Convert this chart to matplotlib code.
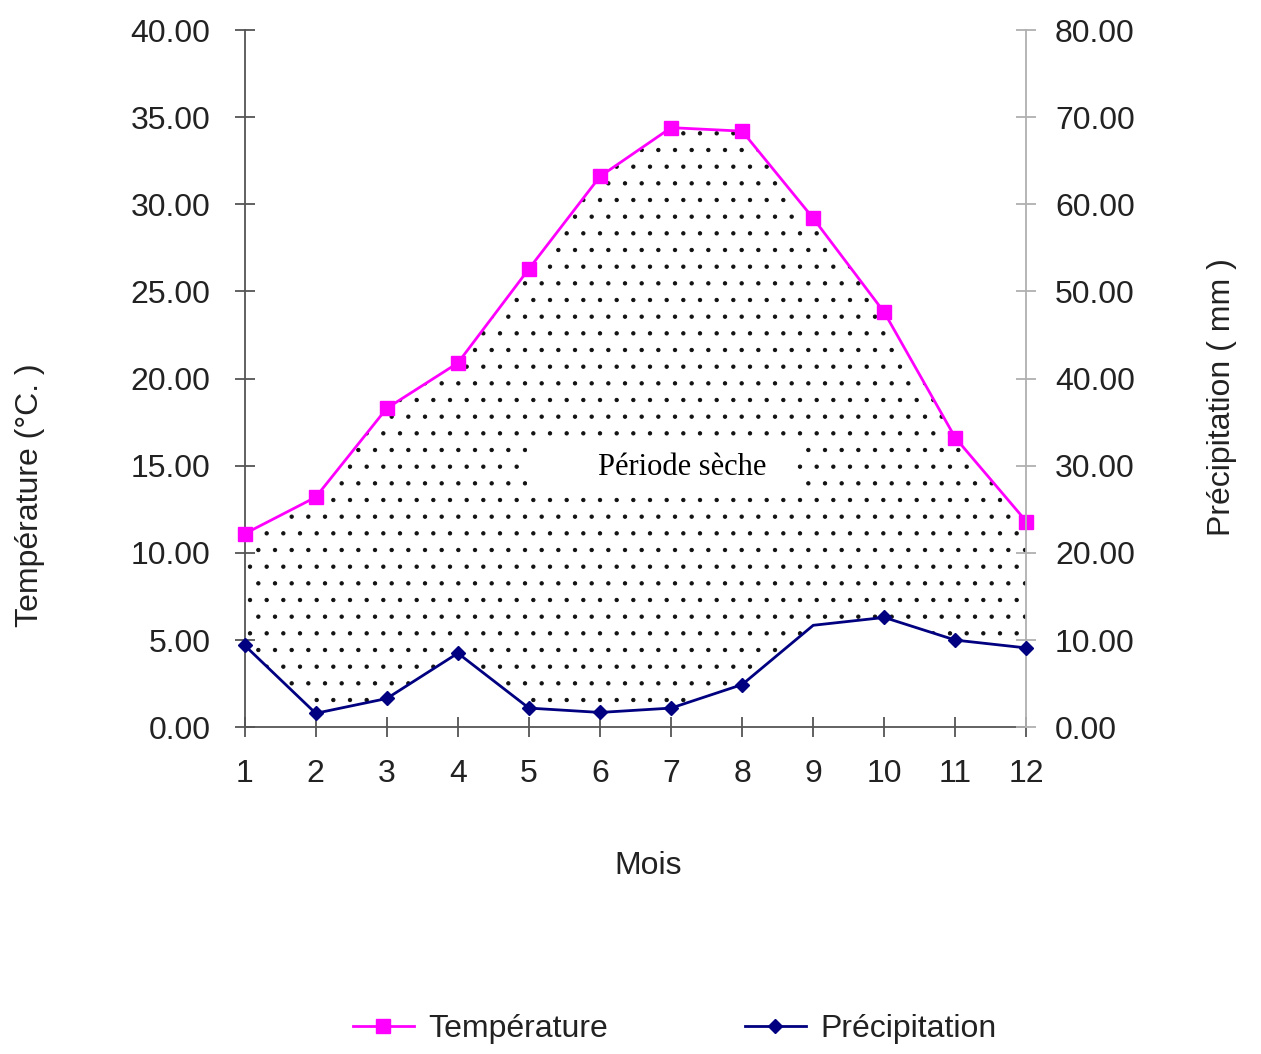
"""Ombrothermic diagram: monthly temperature vs precipitation with the dry period shaded."""

import numpy as np
import matplotlib.pyplot as plt
from matplotlib.lines import Line2D
from matplotlib.patches import Rectangle

plt.rcParams['font.family'] = ['Liberation Sans', 'DejaVu Sans']
plt.rcParams['hatch.linewidth'] = 0.7

months = np.arange(1, 13)
temperature = [11.1, 13.2, 18.3, 20.9, 26.3, 31.6, 34.4, 34.2, 29.2, 23.8, 16.6, 11.8]
precipitation = [9.4, 1.6, 3.3, 8.5, 2.2, 1.7, 2.2, 4.9, 11.7, 12.6, 10.0, 9.1]

temp_ticks = np.arange(0, 41, 5)
prec_ticks = np.arange(0, 81, 10)

TEMP_COLOR = '#ff00ff'
PREC_COLOR = '#000080'
FS = 23

fig = plt.figure(figsize=(12.61, 10.54), dpi=100)
ax = fig.add_axes([0.194, 0.310, 0.620, 0.6615])
ax2 = ax.twinx()

ax.set_xlim(1, 12)
ax.set_ylim(0, 40)
ax2.set_ylim(0, 80)

# dry period: area between T and P/2 (P = 2T convention)
prec_scaled = np.array(precipitation) * (40 / 80)
ax.fill_between(months, temperature, prec_scaled, facecolor='none',
                edgecolor='#111111', hatch='.', linewidth=0, zorder=1)
ax.add_patch(Rectangle((0.361, 0.336), 0.345, 0.073, transform=ax.transAxes,
                       facecolor='white', edgecolor='none', zorder=2))
ax.text(7.16, 14.9, 'Période sèche', family='Liberation Serif', fontsize=22,
        ha='center', va='center', zorder=3)

ax.plot(months, temperature, color=TEMP_COLOR, lw=2.0, marker='s', ms=10,
        zorder=4, clip_on=False)
ax2.plot(months, precipitation, color=PREC_COLOR, lw=2.0, marker='D', ms=7,
         markevery=[0, 1, 2, 3, 4, 5, 6, 7, 9, 10, 11], zorder=4, clip_on=False)

ax.set_xticks(months)
ax.set_yticks(temp_ticks)
ax.set_yticklabels([f'{v:.2f}' for v in temp_ticks])
ax2.set_yticks(prec_ticks)
ax2.set_yticklabels([f'{v:.2f}' for v in prec_ticks])

for side in ['top', 'right']:
    ax.spines[side].set_visible(False)
for side in ['top', 'left', 'bottom']:
    ax2.spines[side].set_visible(False)
ax.spines['left'].set_color('#555555')
ax.spines['bottom'].set_color('#555555')
ax2.spines['right'].set_color('#b0b0b0')
for sp in ax.spines.values():
    sp.set_linewidth(1.3)
ax2.spines['right'].set_linewidth(1.3)

ax.tick_params(axis='y', direction='inout', length=15, width=1.3, color='#555555',
               pad=17, labelsize=FS, labelcolor='#222222')
ax.tick_params(axis='x', direction='inout', length=15, width=1.3, color='#555555',
               pad=15, labelsize=FS, labelcolor='#222222')
ax2.tick_params(axis='y', direction='inout', length=15, width=1.3, color='#b0b0b0',
                pad=13, labelsize=FS, labelcolor='#222222')

fig.text(648 / 1261, 1 - 866 / 1054, 'Mois', fontsize=FS, color='#222222',
         ha='center', va='center')
fig.text(30 / 1261, 1 - 495 / 1054, 'Température (°C. )', fontsize=FS,
         color='#222222', rotation=90, ha='center', va='center')
fig.text(1222 / 1261, 1 - 397 / 1054, 'Précipitation ( mm )', fontsize=FS,
         color='#222222', rotation=90, ha='center', va='center')

handles = [
    Line2D([], [], color=TEMP_COLOR, lw=2.0, marker='s', ms=10),
    Line2D([], [], color=PREC_COLOR, lw=2.0, marker='D', ms=7),
]
fig.legend(handles, ['Température', 'Précipitation'], loc='center',
           bbox_to_anchor=(0.535, 0.024), ncol=2, frameon=False, fontsize=FS,
           handlelength=1.9, handletextpad=0.45, columnspacing=4.3,
           labelcolor='#222222')

fig.savefig('out.png', dpi=100, facecolor='white')
